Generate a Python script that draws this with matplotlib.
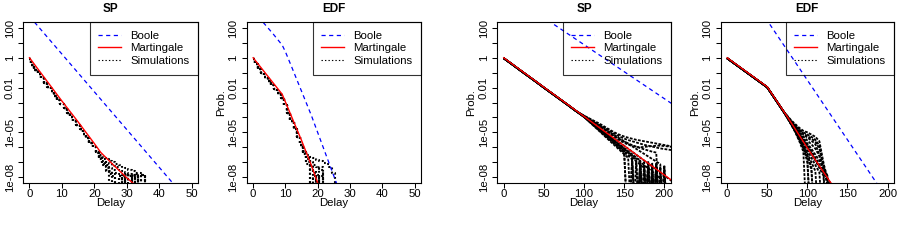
import numpy as np
import matplotlib.pyplot as plt
from matplotlib.lines import Line2D
from matplotlib.ticker import NullLocator

plt.rcParams['font.family'] = ['Liberation Sans', 'DejaVu Sans']
plt.rcParams['lines.scale_dashes'] = False

# all probabilities below are log10 values
OFF = -12  # simulation gave nothing -> falls below the axis

# ---------------- panel 1: SP, delays 0..50
sp1_boole_x = [0, 10, 20, 30, 40, 50]
sp1_boole = [2.78, 0.25, -2.28, -4.81, -7.34, -9.87]
sp1_mart_x = [0, 5, 10, 15, 20, 22, 25, 30, 33]
sp1_mart = [0, -1.45, -2.9, -4.3, -5.75, -6.35, -7.0, -8.05, -8.6]
sp1_sim_x = list(range(0, 37))
sp1_sim_base = [-0.05, -0.5, -0.8, -1.09, -1.38, -1.67, -1.96, -2.25, -2.54, -2.83,
                -3.12, -3.4, -3.68, -3.96, -4.24, -4.52, -4.8, -5.1, -5.4, -5.7, -6.0]
sp1_sim_tails = [
    [-6.3, -6.5, -6.65, -6.8, -6.9, -7.0, -7.1, -7.2, -7.3, -7.4, -7.5, -7.6, -7.7, -7.75, -7.85, OFF],
    [-6.35, -6.6, -6.8, -7.0, -7.1, -7.25, -7.35, -7.5, -7.6, -7.7, -7.8, -7.85, OFF, -7.9, OFF, OFF],
    [-6.4, -6.7, -6.95, -7.2, -7.4, -7.55, -7.7, -7.8, OFF, -7.85, -7.9, OFF, -7.9, OFF, -7.9, OFF],
    [-6.35, -6.7, -7.0, -7.3, -7.6, -7.8, OFF, -7.9, -7.9, OFF, OFF, -7.85, OFF, OFF, OFF, OFF],
    [-6.4, -6.8, -7.2, -7.6, OFF, OFF, OFF, OFF, OFF, OFF, OFF, OFF, OFF, OFF, OFF, OFF],
    [-6.3, -6.75, -7.1, -7.5, -7.8, OFF, OFF, -7.9, OFF, -7.8, OFF, -7.9, -7.8, OFF, OFF, OFF],
    [-6.35, -6.7, -7.05, -7.4, -7.7, -7.9, OFF, OFF, -7.85, OFF, -7.85, OFF, OFF, -7.85, -7.85, OFF],
]

# ---------------- panel 2: EDF, delays 0..50
edf1_boole_x = [0, 3, 6, 9, 10, 12, 15, 18, 21, 24, 27]
edf1_boole = [3.15, 2.4, 1.65, 0.85, 0.4, -0.65, -2.25, -3.85, -5.6, -7.35, -9.1]
edf1_mart_x = [0, 9, 12, 15, 18, 20, 21]
edf1_mart = [0, -2.45, -4.0, -5.55, -7.2, -8.4, -8.9]
edf1_sim_x = list(range(0, 27))
edf1_sim_base = [-0.05, -0.45, -0.72, -1.0, -1.27, -1.55, -1.82, -2.1, -2.38, -2.7,
                 -3.2, -3.72, -4.25, -4.78, -5.3, -5.82]
edf1_sim_tails = [
    [-6.25, -6.5, -6.65, -6.75, -6.85, -6.95, -7.05, -7.15, -7.35, -7.75, OFF],
    [-6.3, -6.7, -7.0, -7.2, -7.35, -7.5, OFF, OFF, OFF, OFF, OFF],
    [-6.35, -6.8, -7.3, -7.7, -7.9, OFF, OFF, OFF, OFF, OFF, OFF],
    [-6.4, -7.0, OFF, OFF, OFF, OFF, OFF, OFF, OFF, OFF, OFF],
    [-6.4, -6.9, -7.5, OFF, -7.85, OFF, OFF, OFF, OFF, OFF, OFF],
    [-6.3, -6.75, -7.2, -7.6, OFF, -7.3, OFF, OFF, OFF, OFF, OFF],
    [-6.45, -7.1, OFF, -7.9, OFF, -7.9, OFF, OFF, OFF, OFF, OFF],
]

# ---------------- panel 3: SP, delays 0..200
sp2_boole_x = [0, 50, 100, 150, 200, 215]
sp2_boole = [4.5, 2.69, 0.88, -0.93, -2.74, -3.28]
sp2_mart_x = [0, 50, 100, 150, 200, 215]
sp2_mart = [0, -1.97, -3.93, -5.9, -7.86, -8.45]
sp2_sim_x = [0, 10, 20, 30, 40, 50, 60, 70, 80, 90] + list(range(100, 215, 5))
sp2_sim_base = [-0.03, -0.42, -0.82, -1.21, -1.6, -2.0, -2.39, -2.78, -3.17, -3.57]
sp2_sim_tails = [
    [-3.88, -4.02, -4.16, -4.3, -4.44, -4.6, -4.76, -4.92, -5.06, -5.18, -5.28, -5.36,
     -5.43, -5.5, -5.55, -5.6, -5.65, -5.7, -5.75, -5.8, -5.85, -5.9, -5.95],
    [-3.9, -4.05, -4.2, -4.36, -4.52, -4.68, -4.84, -5.0, -5.16, -5.3, -5.42, -5.52,
     -5.6, -5.68, -5.76, -5.84, -5.9, -5.96, -6.02, -6.08, -6.12, -6.16, -6.2],
    [-3.92, -4.08, -4.25, -4.42, -4.6, -4.78, -4.96, -5.14, -5.32, -5.48, -5.62, -5.74,
     -5.86, -5.96, -6.06, -6.14, -6.22, -6.3, -6.36, OFF, OFF, OFF, OFF],
    [-3.93, -4.12, -4.3, -4.48, -4.66, -4.84, -5.02, -5.2, -5.38, -5.56, -5.7, -5.82,
     -5.92, -5.98, -6.0, -5.98, -5.95, -5.92, -5.9, -5.9, -5.92, -5.95, -5.98],
    [-3.93, -4.13, -4.33, -4.53, -4.73, -4.93, -5.12, -5.32, -5.51, -5.71, -5.9, -6.1,
     -6.3, -6.5, -6.7, -6.9, -7.1, -7.3, -7.5, -7.7, -7.9, -8.1, -8.3],
    [-3.95, -4.17, -4.39, -4.61, -4.83, -5.05, -5.27, -5.49, -5.71, -5.93, -6.15, -6.37,
     -6.6, -6.85, OFF, -7.0, OFF, -7.2, OFF, OFF, OFF, OFF, OFF],
    [-3.96, -4.2, -4.44, -4.68, -4.92, -5.16, -5.4, -5.64, -5.88, -6.12, -6.36, OFF,
     -6.9, OFF, -7.1, OFF, -6.95, OFF, -7.2, OFF, OFF, OFF, OFF],
    [-3.95, -4.18, -4.41, -4.64, -4.87, -5.1, -5.33, -5.56, -5.79, -6.02, -6.25, -6.48,
     -6.71, -6.94, -7.17, -7.4, OFF, -7.6, OFF, -7.7, OFF, OFF, OFF],
    [-3.94, -4.15, -4.36, -4.57, -4.78, -5.0, -5.22, -5.44, -5.66, -5.88, -6.1, -6.32,
     -6.54, -6.76, -6.98, -7.2, -7.42, -7.64, -7.86, -8.08, OFF, OFF, OFF],
    [-3.97, -4.22, -4.47, -4.72, -4.97, -5.22, -5.47, -5.72, -5.97, -6.22, -6.47, -6.72,
     OFF, -7.0, OFF, -7.2, OFF, -7.1, OFF, -7.3, OFF, OFF, OFF],
    [-3.9, -4.07, -4.24, -4.41, -4.58, -4.75, -4.92, -5.09, -5.26, -5.43, -5.6, -5.77,
     -5.94, -6.11, -6.28, -6.45, -6.62, -6.79, -6.96, -7.13, OFF, OFF, OFF],
    [-3.96, -4.19, -4.42, -4.65, -4.88, -5.11, -5.34, -5.57, -5.8, -6.03, -6.26, OFF,
     -6.8, OFF, -6.9, OFF, -7.0, OFF, -7.1, OFF, -7.2, OFF, OFF],
    [-3.95, -4.16, -4.37, -4.58, -4.79, -5.0, -5.21, -5.42, -5.63, -5.84, -6.05, -6.26,
     -6.47, -6.68, -6.89, OFF, -7.3, OFF, -7.4, OFF, -7.5, OFF, OFF],
    [-3.96, -4.2, -4.43, -4.66, -4.9, -5.14, -5.38, -5.62, -5.86, -6.1, -6.34, -6.58,
     -6.82, OFF, -7.0, OFF, -7.1, OFF, -7.15, OFF, -7.3, OFF, OFF],
]

# ---------------- panel 4: EDF, delays 0..200
edf2_boole_x = [0, 50, 100, 150, 200]
edf2_boole = [6.5, 2.5, -1.5, -5.5, -9.5]
edf2_mart_x = [0, 25, 50, 75, 100, 130, 135]
edf2_mart = [0, -0.97, -1.95, -3.95, -6.05, -8.45, -8.85]
edf2_sim_x = [0, 10, 20, 30, 40, 50, 60, 70] + list(range(80, 140, 5))
edf2_sim_base = [-0.03, -0.42, -0.81, -1.2, -1.59, -1.98, -2.78, -3.58]
edf2_sim_tails = [
    [-4.2, -4.45, -4.7, -4.9, -5.0, -5.15, -5.3, -5.6, -7.0, -8.3, OFF, OFF],
    [-4.25, -4.55, -4.8, -5.0, -5.15, -5.3, -5.5, -5.9, -7.3, -8.6, OFF, OFF],
    [-4.3, -4.6, -4.9, -5.15, -5.35, -5.55, -5.8, -6.5, -7.6, OFF, OFF, OFF],
    [-4.28, -4.58, -4.85, -5.08, -5.25, -5.42, -5.62, -6.1, -7.1, -8.0, OFF, OFF],
    [-4.32, -4.65, -4.97, -5.28, -5.55, -5.8, -6.1, -6.6, -7.3, -8.2, OFF, OFF],
    [-4.35, -4.7, -5.05, -5.4, -5.75, -6.1, -6.5, -6.9, -7.4, -7.9, OFF, OFF],
    [-4.36, -4.72, -5.1, -5.48, -5.85, -6.25, -6.7, -7.15, -7.6, -8.05, OFF, OFF],
    [-4.4, -4.8, -5.2, -5.6, -6.0, -6.45, -6.85, -7.25, -7.7, -8.1, -8.5, OFF],
    [-4.4, -4.85, -5.3, -5.75, -6.2, -6.7, -7.2, -7.7, OFF, OFF, OFF, OFF],
    [-4.38, -4.75, -5.15, -5.55, -5.95, -6.4, -6.9, -7.4, -7.9, OFF, OFF, OFF],
    [-4.42, -4.88, -5.35, -5.85, -6.4, -7.0, -7.6, OFF, OFF, OFF, OFF, OFF],
    [-4.45, -4.95, -5.5, -6.1, -6.8, OFF, OFF, OFF, OFF, OFF, OFF, OFF],
    [-4.48, -4.97, -5.5, -6.05, -7.0, OFF, OFF, OFF, OFF, OFF, OFF, OFF],
    [-4.5, -5.0, -5.6, -6.3, OFF, OFF, OFF, OFF, OFF, OFF, OFF, OFF],
    [-4.45, -4.9, -5.4, -5.9, -6.5, -7.3, OFF, OFF, OFF, OFF, OFF, OFF],
    [-4.47, -4.93, -5.45, -6.0, -6.65, -7.5, OFF, OFF, OFF, OFF, OFF, OFF],
]

panels = [
    ('SP', 50, [0, 10, 20, 30, 40, 50], sp1_boole_x, sp1_boole, sp1_mart_x, sp1_mart,
     sp1_sim_x, sp1_sim_base, sp1_sim_tails, True),
    ('EDF', 50, [0, 10, 20, 30, 40, 50], edf1_boole_x, edf1_boole, edf1_mart_x, edf1_mart,
     edf1_sim_x, edf1_sim_base, edf1_sim_tails, True),
    ('SP', 200, [0, 50, 100, 150, 200], sp2_boole_x, sp2_boole, sp2_mart_x, sp2_mart,
     sp2_sim_x, sp2_sim_base, sp2_sim_tails, False),
    ('EDF', 200, [0, 50, 100, 150, 200], edf2_boole_x, edf2_boole, edf2_mart_x, edf2_mart,
     edf2_sim_x, edf2_sim_base, edf2_sim_tails, False),
]

W, H = 899, 240
boxes = [(23, 198), (246.7, 421), (497.3, 670.7), (720.7, 894)]
top, bottom = 22, 183
fs = 8.2

decades = list(range(-8, 3))
dec_labels = ['1e-08', '', '', '1e-05', '', '', '0.01', '', '1', '', '100']

fig = plt.figure(figsize=(W / 100, H / 100), dpi=100)

for (l, r), p in zip(boxes, panels):
    title, xmax, xticks, bx, by, mx, my, sx, sbase, stails, short = p
    ax = fig.add_axes([l / W, 1 - bottom / H, (r - l) / W, (bottom - top) / H])
    ax.set_yscale('log', nonpositive='clip')

    for i, tail in enumerate(stails):
        vals = 10 ** np.array(sbase + tail, dtype=float)
        if short:
            ax.plot(sx, vals, color='black', lw=1.5, drawstyle='steps-mid',
                    linestyle=(0, (1.3, 1.7)))
        else:
            ax.plot(sx, vals, color='black', lw=1.3,
                    linestyle=(i * 0.5, (2.0, 1.0)))

    ax.plot(bx, 10 ** np.array(by), color='blue', lw=0.9, linestyle=(0, (3, 2.5)))
    ax.plot(mx, 10 ** np.array(my), color='red', lw=1.0)

    ax.set_xlim(-0.04 * xmax, 1.04 * xmax)
    ax.set_ylim(10 ** -8.4, 10 ** 2.4)
    ax.set_xticks(xticks)
    ax.set_yticks([10.0 ** d for d in decades], labels=dec_labels)
    ax.yaxis.set_minor_locator(NullLocator())
    ax.tick_params(length=3.5, width=0.75, pad=1.0, labelsize=fs, colors='black')
    ax.tick_params(axis='y', labelrotation=90, pad=2.5)
    for lbl in ax.get_yticklabels():
        lbl.set_va('center')
    for s in ax.spines.values():
        s.set_linewidth(0.8)

    ax.set_xlabel('Delay', fontsize=fs, va='top')
    ax.xaxis.set_label_coords(0.5, -(198.5 - bottom) / (bottom - top))
    ax.set_ylabel('Prob.', fontsize=fs)
    ax.yaxis.set_label_coords(-26 / (r - l), 0.5)
    ax.yaxis.label.set_va('center')

    ax.text(0.5, 1 + (top - 9.2) / (bottom - top), title, transform=ax.transAxes,
            ha='center', va='center', fontweight='bold', fontsize=8.5)

    handles = [Line2D([], [], color='blue', lw=0.9, linestyle=(0, (3, 2.5))),
               Line2D([], [], color='red', lw=1.0),
               Line2D([], [], color='black', lw=0.8, linestyle=(0, (1, 1.5)))]
    leg = ax.legend(handles, ['Boole', 'Martingale', 'Simulations'], loc='upper right',
                    fontsize=fs, fancybox=False, borderaxespad=0, handlelength=2.0,
                    handletextpad=0.8, borderpad=0.75, labelspacing=0.25)
    leg.get_frame().set_edgecolor('black')
    leg.get_frame().set_facecolor('none')
    leg.get_frame().set_linewidth(0.8)

fig.savefig('out.png', dpi=100)
